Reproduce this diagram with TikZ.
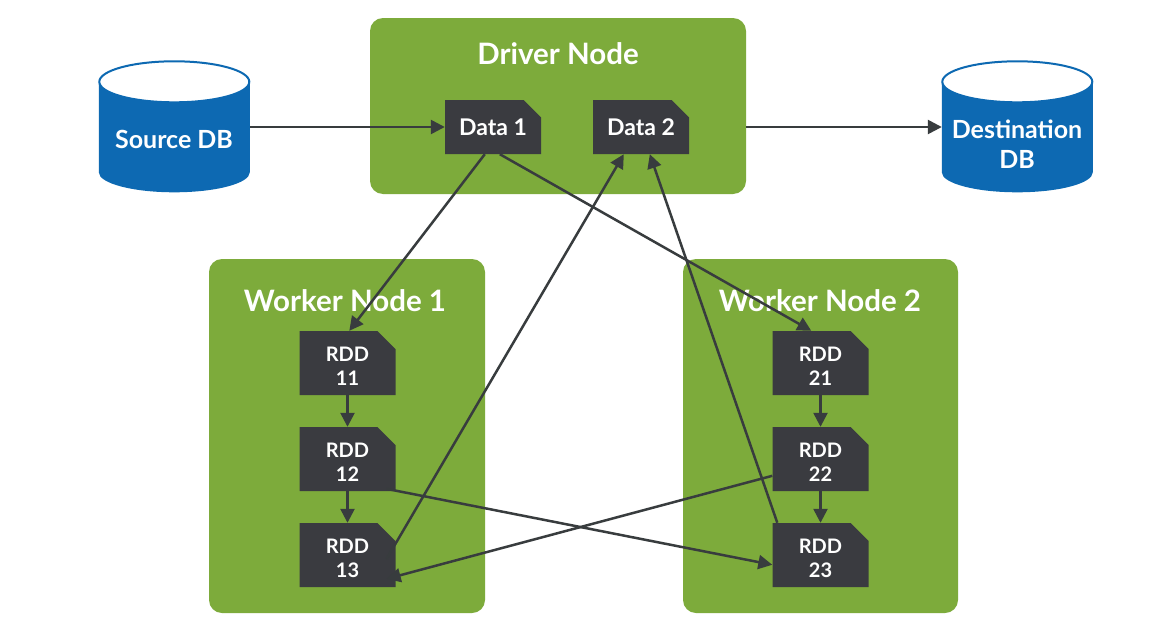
\documentclass[tikz,border=0pt]{standalone}
\usepackage{fontspec}
\setmainfont{Lato}
\usetikzlibrary{shapes.misc,calc,arrows.meta}
\definecolor{nodegreen}{HTML}{7DAB3B}
\definecolor{docdark}{HTML}{3A3B40}
\definecolor{dbblue}{HTML}{0D69B2}
\definecolor{linedark}{HTML}{383C3E}
\tikzset{
  x=1pt,y=-1pt,
  panel/.style={fill=nodegreen,rounded corners=13pt},
  paneltitle/.style={text=white,font=\fontsize{29.5}{32}\selectfont\bfseries,inner sep=0pt},
  doc/.style={chamfered rectangle,chamfered rectangle corners=north east,chamfered rectangle sep=9pt,
    fill=docdark,text=white,minimum width=96pt,inner sep=0pt,align=center},
  datadoc/.style={doc,minimum height=54pt,font=\fontsize{23}{26}\selectfont\bfseries},
  rdddoc/.style={doc,minimum height=64pt,font=\fontsize{20}{24}\selectfont\bfseries},
  dbanchor/.style={rectangle,minimum width=151pt,minimum height=133pt,inner sep=0pt},
  dbtext/.style={text=white,align=center,inner sep=0pt,font=\fontsize{25}{30}\selectfont\bfseries},
  link/.style={draw=linedark,line width=2.5pt,-{Triangle[length=14pt,width=14pt]}},
}
\newcommand{\rddlabel}[1]{\rule{0pt}{21pt}RDD\\#1}
\newcommand{\dbshape}[1]{%
  \fill[dbblue] ($(#1.north west)+(0,21)$) -- ++(0,91)
    arc[start angle=180,end angle=360,x radius=75.5pt,y radius=20pt] -- ++(0,-91) -- cycle;
  \filldraw[fill=white,draw=dbblue,line width=2pt] ($(#1.north west)+(75.5,21.5)$)
    ellipse[x radius=75pt,y radius=20.5pt];
}
\begin{document}
\begin{tikzpicture}
\useasboundingbox (0,0) rectangle (1149,640);
\fill[white] (0,0) rectangle (1149,640);
% panels
\fill[panel] (370,18) rectangle (746,194);
\fill[panel] (209,259) rectangle (485,613);
\fill[panel] (683,259) rectangle (958,613);
\node[rectangle,minimum width=376pt,minimum height=176pt,inner sep=0pt] (driver) at (558,106) {};
\node[paneltitle] (drivert) at (558,54) {Driver Node};
\node[paneltitle] (w1t) at (345,301) {Worker Node 1};
\node[paneltitle] (w2t) at (820,301) {Worker Node 2};
% databases
\node[dbanchor] (src) at (174.5,127) {};
\node[dbanchor] (dst) at (1017.5,127) {};
\dbshape{src}
\dbshape{dst}
\node[dbtext] (srct) at (174,139) {Source DB};
\node[dbtext] (dstt) at (1017,144) {Destination\\DB};
% documents
\node[datadoc] (d1) at (493,127) {Data 1};
\node[datadoc] (d2) at (641,127) {Data 2};
\node[rdddoc] (r11) at (347.5,363) {\rddlabel{11}};
\node[rdddoc] (r12) at (347.5,459) {\rddlabel{12}};
\node[rdddoc] (r13) at (347.5,555) {\rddlabel{13}};
\node[rdddoc] (r21) at (820.5,363) {\rddlabel{21}};
\node[rdddoc] (r22) at (820.5,459) {\rddlabel{22}};
\node[rdddoc] (r23) at (820.5,555) {\rddlabel{23}};
% connectors
\draw[link] (src.east) -- (d1.west);
\draw[link] (driver.east |- dst.west) -- (dst.west);
\draw[link] ($(d1.south west)+(40,0)$) -- ($(r11.north west)+(50,0)$);
\draw[link] ($(d1.south west)+(55,0)$) -- ($(r21.north west)+(39,0)$);
\draw[link] ($(r13.north east)+(0,27)$) -- ($(d2.south west)+(31,0)$);
\draw[link] ($(r23.north west)+(5,0)$) -- ($(d2.south west)+(57,0)$);
\draw[link] ($(r12.north east)+(0,53)$) -- ($(r23.north west)+(0,42)$);
\draw[link] ($(r22.north west)+(0,49)$) -- ($(r13.north east)+(0,47)$);
\draw[link] (r11.south) -- (r12.north);
\draw[link] (r12.south) -- (r13.north);
\draw[link] (r21.south) -- (r22.north);
\draw[link] (r22.south) -- (r23.north);
\end{tikzpicture}
\end{document}
